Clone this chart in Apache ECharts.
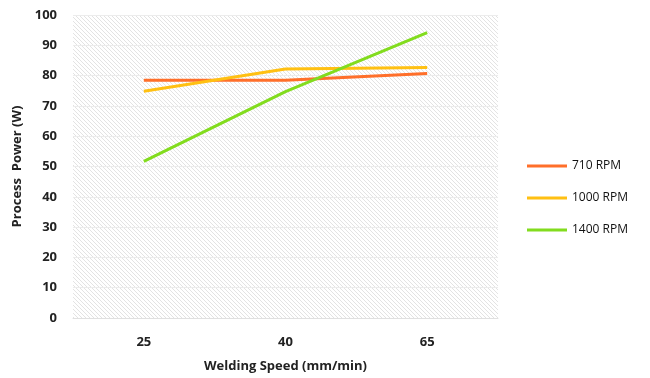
<!DOCTYPE html>
<html>
<head>
<meta charset="utf-8">
<script src="https://cdn.jsdelivr.net/npm/echarts@6/dist/echarts.min.js"></script>
<style>
  html, body { margin: 0; padding: 0; background: #fff; }
  #chart { width: 650px; height: 378px; }
</style>
</head>
<body>
<div id="chart"></div>
<script>
var speeds = ['25', '40', '65'];
var rpm710 = [78.5, 78.5, 80.7];
var rpm1000 = [74.8, 82.2, 82.7];
var rpm1400 = [51.7, 74.7, 94.2];
var seriesNames = ['710 RPM', '1000 RPM', '1400 RPM'];
var seriesColors = ['#ff6f2a', '#ffc012', '#82dc1e'];

// light diagonal hatching for the plot area
var hatch = document.createElement('canvas');
hatch.width = 4;
hatch.height = 4;
var hctx = hatch.getContext('2d');
hctx.fillStyle = '#ffffff';
hctx.fillRect(0, 0, 4, 4);
hctx.strokeStyle = '#e3e3e3';
hctx.lineWidth = 1;
hctx.beginPath();
hctx.moveTo(0, 0); hctx.lineTo(4, 4);
hctx.moveTo(-2, 2); hctx.lineTo(2, 6);
hctx.moveTo(2, -2); hctx.lineTo(6, 2);
hctx.stroke();

var chart = echarts.init(document.getElementById('chart'));
var font = 'Open Sans';

chart.setOption({
    animation: false,
    color: seriesColors,
    grid: {
        left: 73,
        right: 152,
        top: 15,
        bottom: 60,
        show: true,
        borderWidth: 0,
        backgroundColor: { image: hatch, repeat: 'repeat' }
    },
    legend: {
        orient: 'vertical',
        left: 522,
        top: 155,
        itemWidth: 40,
        itemHeight: 3,
        itemGap: 20,
        icon: 'rect',
        textStyle: { fontFamily: font, fontSize: 12, color: '#111' },
        data: seriesNames
    },
    xAxis: {
        type: 'category',
        data: speeds,
        boundaryGap: true,
        name: 'Welding Speed (mm/min)',
        nameLocation: 'middle',
        nameGap: 42,
        nameTextStyle: { fontFamily: font, fontSize: 13, fontWeight: 'bold', color: '#222' },
        axisLine: { show: true, lineStyle: { color: '#e0e0e0' } },
        axisTick: { show: false },
        axisLabel: { fontFamily: font, fontSize: 13, fontWeight: 'bold', color: '#222', margin: 18 }
    },
    yAxis: {
        type: 'value',
        min: 0,
        max: 100,
        interval: 10,
        name: 'Process  Power (W)',
        nameLocation: 'middle',
        nameGap: 48,
        nameTextStyle: { fontFamily: font, fontSize: 13, fontWeight: 'bold', color: '#222' },
        axisLine: { show: false },
        axisTick: { show: false },
        axisLabel: { fontFamily: font, fontSize: 13, fontWeight: 'bold', color: '#222', margin: 16 },
        splitLine: { lineStyle: { color: '#ececec', width: 1 } }
    },
    series: [
        { name: seriesNames[0], type: 'line', data: rpm710, showSymbol: false, lineStyle: { width: 3 } },
        { name: seriesNames[1], type: 'line', data: rpm1000, showSymbol: false, lineStyle: { width: 3 } },
        { name: seriesNames[2], type: 'line', data: rpm1400, showSymbol: false, lineStyle: { width: 3 } }
    ]
});
</script>
</body>
</html>
